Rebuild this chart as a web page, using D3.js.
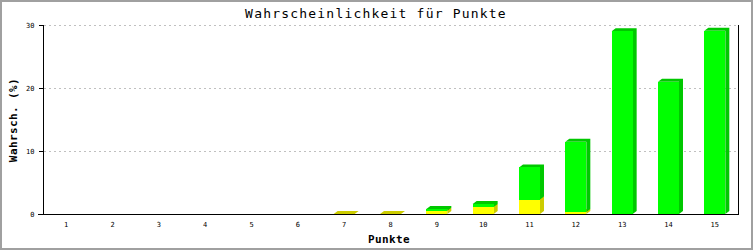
<!DOCTYPE html>
<html>
<head>
<meta charset="utf-8">
<script src="https://cdn.jsdelivr.net/npm/d3@7"></script>
<style>
  html, body { margin: 0; padding: 0; background: #fff; }
  svg { display: block; }
  text { font-family: "DejaVu Sans Mono", monospace; }
</style>
</head>
<body>
<svg id="chart" width="753" height="250"></svg>
<script>
const categories = ["1","2","3","4","5","6","7","8","9","10","11","12","13","14","15"];
const yellowValues = [0,0,0,0,0,0,0.01,0.01,0.5,1.1,2.3,0.3,0,0,0];
const greenValues  = [0,0,0,0,0,0,0,0,0.3,0.5,5.1,11.15,29.0,21.0,29.1];
const yTicks = [0,10,20,30];
const titleText = "Wahrscheinlichkeit für Punkte";
const xTitle = "Punkte";
const yTitle = "Wahrsch. (%)";

const W = 753, H = 250;
const plot = {left: 43, right: 738, top: 25, bottom: 214};
const svg = d3.select("#chart");

svg.append("rect").attr("width", W).attr("height", H).attr("fill", "#fff");

const x = d3.scaleBand().domain(categories).range([plot.left, plot.right])
  .paddingInner(0.547).paddingOuter(0.2735);
const y = d3.scaleLinear().domain([0, 30]).range([plot.bottom, plot.top]);

// grid lines
svg.append("g").selectAll("line").data(yTicks.filter(d => d > 0)).join("line")
  .attr("x1", plot.left + 1).attr("x2", plot.right - 1)
  .attr("y1", d => Math.round(y(d)) + 0.5).attr("y2", d => Math.round(y(d)) + 0.5)
  .attr("stroke", "#c0c0c0").attr("stroke-dasharray", "2,3")
  .attr("shape-rendering", "crispEdges");

// bars (stacked, with shadow)
const sh = 4, sv = 3;
const series = [
  {values: yellowValues, fill: "#ffff00", shadow: "#cccc00"},
  {values: greenValues, fill: "#00ff00", shadow: "#00c800"}
];
const bars = svg.append("g");
categories.forEach((c, i) => {
  let base = 0;
  series.forEach(s => {
    const v = s.values[i];
    if (v > 0) {
      const x0 = x(c), x1 = x(c) + x.bandwidth();
      const yb = y(base), yt = y(base + v);
      bars.append("polygon")
        .attr("points", [[x0, yt], [x0 + sh, yt - sv], [x1 + sh, yt - sv], [x1 + sh, yb - sv], [x1, yb], [x1, yt]].map(p => p.join(",")).join(" "))
        .attr("fill", s.shadow);
      bars.append("rect")
        .attr("x", x0).attr("y", yt).attr("width", x.bandwidth()).attr("height", yb - yt)
        .attr("fill", s.fill).attr("shape-rendering", "crispEdges");
    }
    base += v;
  });
});

// axes
const yAxis = d3.axisLeft(y).tickValues(yTicks).tickSize(5).tickPadding(4).tickFormat(d3.format("d"));
const gy = svg.append("g").attr("transform", `translate(${plot.left + 0.5},0)`).call(yAxis);
gy.select(".domain").attr("d", `M0,${plot.top}V${plot.bottom}`).attr("stroke", "#000");
gy.selectAll(".tick line").attr("stroke", "#000").attr("shape-rendering", "crispEdges");
gy.selectAll(".tick text").attr("font-size", 7).attr("font-family", "DejaVu Sans Mono").attr("fill", "#000");

const xAxis = d3.axisBottom(x).tickSize(0).tickPadding(8);
const gx = svg.append("g").attr("transform", `translate(0,${plot.bottom + 0.5})`).call(xAxis);
gx.select(".domain").attr("d", `M${plot.left - 5},0H${plot.right}`).attr("stroke", "#000");
gx.selectAll(".tick text").attr("font-size", 7).attr("font-family", "DejaVu Sans Mono").attr("fill", "#000");

// right border line
svg.append("line").attr("x1", plot.right + 0.5).attr("x2", plot.right + 0.5)
  .attr("y1", plot.top).attr("y2", plot.bottom + 1).attr("stroke", "#000");

// titles
svg.append("text").attr("x", 376).attr("y", 18).attr("text-anchor", "middle")
  .attr("font-size", 13).attr("letter-spacing", 1.2).text(titleText);
svg.append("text").attr("x", 389).attr("y", 243).attr("text-anchor", "middle")
  .attr("font-size", 11).attr("font-weight", "bold").attr("letter-spacing", 0.4).text(xTitle);
svg.append("text").attr("transform", "translate(17,120) rotate(-90)").attr("text-anchor", "middle")
  .attr("font-size", 11).attr("font-weight", "bold").attr("letter-spacing", 0.4).text(yTitle);

// frame
svg.append("rect").attr("x", 1).attr("y", 1).attr("width", W - 2).attr("height", H - 2)
  .attr("fill", "none").attr("stroke", "#a0a0a0").attr("stroke-width", 2);
</script>
</body>
</html>
